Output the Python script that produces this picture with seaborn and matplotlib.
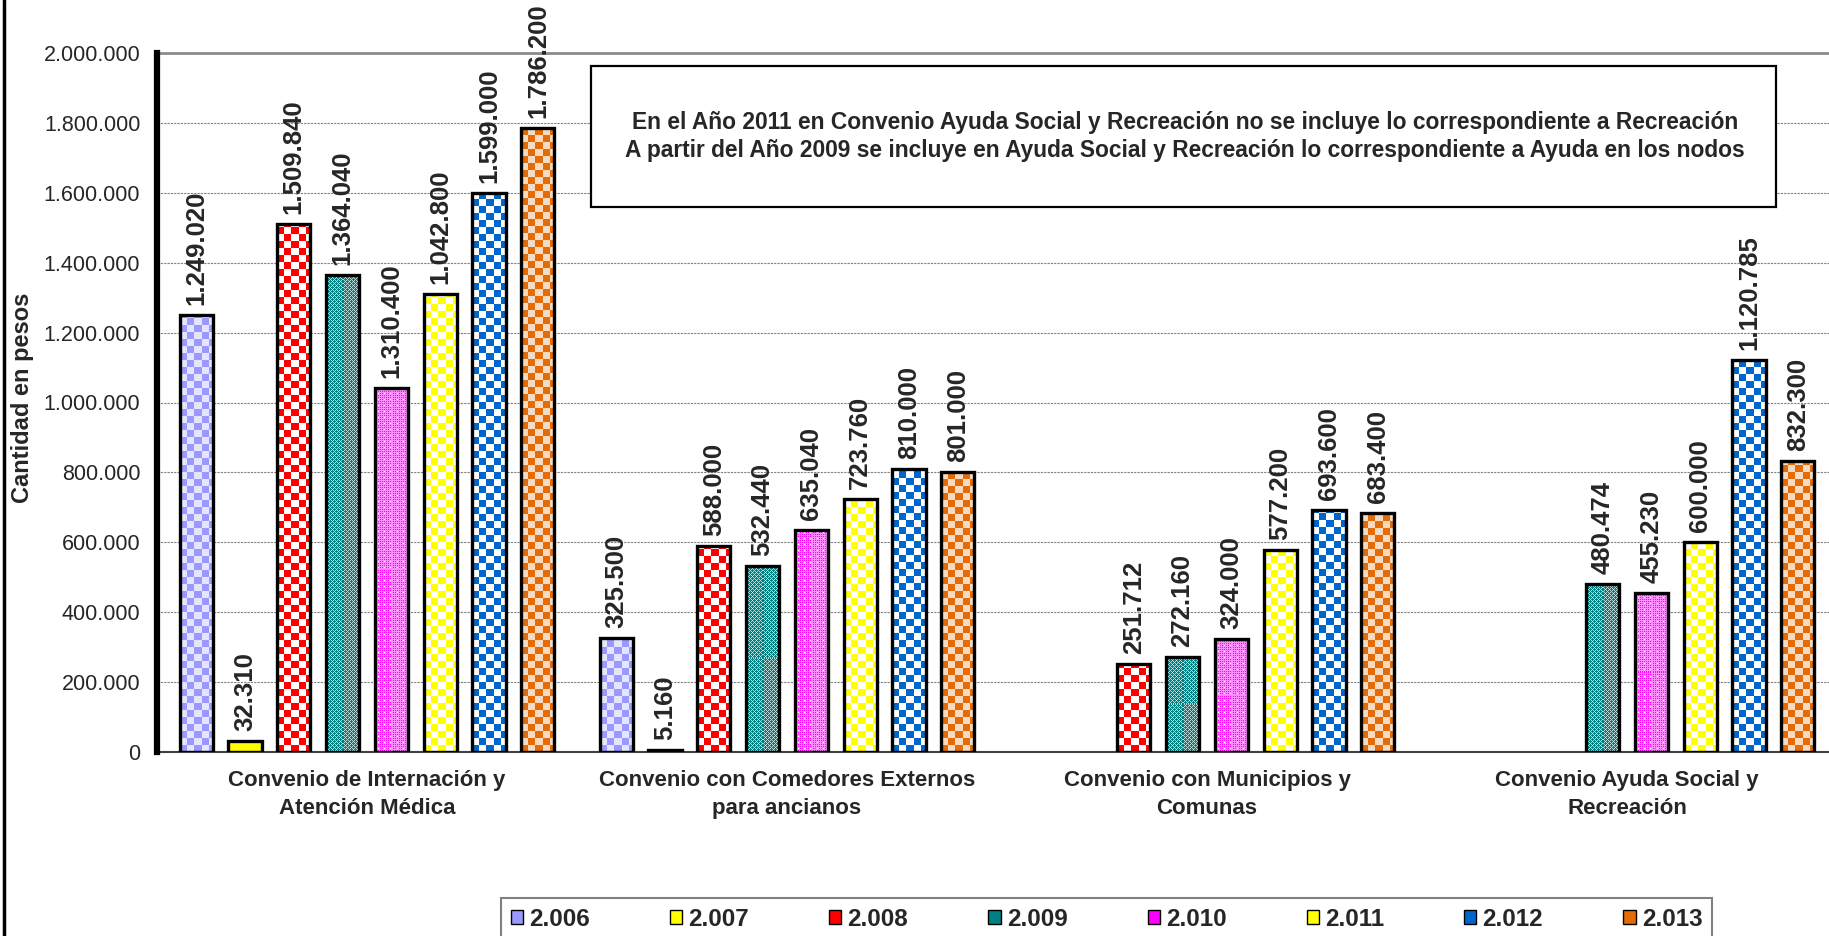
import numpy as np
import pandas as pd
import seaborn as sns
import matplotlib.pyplot as plt
from matplotlib.colors import to_rgb
from matplotlib.patches import Patch, Rectangle
from matplotlib.lines import Line2D

# datos
categorias = ["Convenio de Internación y\nAtención Médica",
              "Convenio con Comedores Externos\npara ancianos",
              "Convenio con Municipios y\nComunas",
              "Convenio Ayuda Social y\nRecreación"]
anios = ["2.006", "2.007", "2.008", "2.009", "2.010", "2.011", "2.012", "2.013"]

v2006 = [1249020, 325500, None, None]
v2007 = [32310, 5160, None, None]
v2008 = [1509840, 588000, 251712, None]
v2009 = [1364040, 532440, 272160, 480474]
v2010 = [1042800, 635040, 324000, 455230]
v2011 = [1310400, 723760, 577200, 600000]
v2012 = [1599000, 810000, 693600, 1120785]
v2013 = [1786200, 801000, 683400, 832300]
valores = [v2006, v2007, v2008, v2009, v2010, v2011, v2012, v2013]

# en el original las etiquetas de 2010 y 2011 del primer grupo estan cruzadas
etiquetas_fijas = {("2.010", 0): "1.310.400", ("2.011", 0): "1.042.800"}

colores = ["#9999FF", "#FFFF00", "#FF0000", "#008080",
           "#FF00FF", "#FFFF00", "#0066CC", "#E36C09"]
tramas = ["bubble", "solid", "checker", "teal", "dots", "checker", "checker", "bubble"]

nota = ["En el Año 2011 en Convenio Ayuda Social y Recreación no se incluye lo correspondiente a Recreación",
        "A partir del Año 2009 se incluye en Ayuda Social y Recreación lo correspondiente a Ayuda en los nodos"]


def miles(v):
    return f"{v:,.0f}".replace(",", ".")


def textura(tipo, color, h, w):
    c = np.array(to_rgb(color))
    i, j = np.mgrid[0:h, 0:w]
    img = np.ones((h, w, 3))
    if tipo == "solid":
        img[:] = c
    elif tipo == "checker":
        m = ((i // 7 + j // 7) % 2) == 0
        img[m] = c
    elif tipo == "bubble":
        m = ((i // 7 + j // 7) % 2) == 0
        img[m] = c
        img[~m] = 0.75 + 0.25 * c
    elif tipo == "teal":
        img[:] = c
        m = ((i + j) % 4 == 0) | ((i - j) % 4 == 0)
        img[m] = 0.7 + 0.3 * c
        img[(i % 4 == 2) & (j % 4 == 2)] = 0.85 + 0.15 * c
    elif tipo == "dots":
        img[:] = c
        img[(i % 2 == 0) | (j % 2 == 0)] = 0.55 + 0.45 * c
        img[(i % 6 == 3) & (j % 6 == 3)] = 1.0
    return img


filas = []
for anio, vals in zip(anios, valores):
    for cat, v in zip(categorias, vals):
        if v is not None:
            filas.append({"categoria": cat, "anio": anio, "monto": v})
df = pd.DataFrame(filas)

sns.set_style("white")
plt.rcParams["font.family"] = ["Liberation Sans", "DejaVu Sans"]

W, H = 1829, 936
fig = plt.figure(figsize=(W / 100, H / 100), dpi=100)
ax = fig.add_axes([157 / W, 1 - 752 / H, 1680 / W, 699 / H])

ancho = 0.93
sns.barplot(data=df, x="categoria", y="monto", hue="anio", order=categorias,
            hue_order=anios, palette=dict(zip(anios, colores)), width=ancho,
            gap=0.32, edgecolor="black", linewidth=2.4, errorbar=None,
            legend=False, ax=ax)

ax.set_xlim(-0.5, 3.5)
ax.set_ylim(0, 2000000)

slot = ancho / len(anios)
for bar in list(ax.patches):
    xc = bar.get_x() + bar.get_width() / 2
    ci = int(round(xc))
    hi = int(np.floor((xc - ci + ancho / 2) / slot))
    anio = anios[hi]
    h = bar.get_height()
    # trama tipo excel recortada a la barra
    p0 = ax.transData.transform((bar.get_x(), 0))
    p1 = ax.transData.transform((bar.get_x() + bar.get_width(), h))
    wpx = max(int(round(p1[0] - p0[0])), 1)
    hpx = max(int(round(p1[1] - p0[1])), 1)
    im = ax.imshow(textura(tramas[hi], colores[hi], hpx, wpx), origin="lower",
                   extent=[bar.get_x(), bar.get_x() + bar.get_width(), 0, h],
                   aspect="auto", interpolation="nearest", zorder=2.5)
    im.set_clip_path(bar)
    bar.set_facecolor("none")
    bar.set_zorder(3)
    txt = etiquetas_fijas.get((anio, ci), miles(h))
    ax.annotate(txt, (xc, h), xytext=(0, 10), textcoords="offset pixels",
                rotation=90, ha="center", va="bottom", fontsize=18.5,
                fontweight="bold", zorder=4)

ax.set_xlim(-0.5, 3.5)
ax.set_ylim(0, 2000000)
ax.set_yticks(np.arange(0, 2000001, 200000))
ax.set_yticklabels([miles(v) for v in np.arange(0, 2000001, 200000)], fontsize=15.5)
ax.tick_params(axis="y", length=0, pad=12)
ax.tick_params(axis="x", length=0, pad=13)
for t in ax.get_xticklabels():
    t.set_fontsize(16)
    t.set_fontweight("bold")
    t.set_linespacing(1.45)
ax.set_xlabel("")
ax.set_ylabel("")

ax.set_axisbelow(True)
ax.yaxis.grid(True, color="#808080", linestyle=(0, (2, 1)), linewidth=0.8)
ax.axhline(2000000, color="#8c8c8c", linewidth=2, zorder=1, clip_on=False)
for s in ["top", "right"]:
    ax.spines[s].set_visible(False)
ax.spines["left"].set_color("black")
ax.spines["left"].set_linewidth(4.5)
ax.spines["bottom"].set_color("#404040")
ax.spines["bottom"].set_linewidth(1.5)
ax.spines["left"].set_zorder(5)

fig.text(23 / W, 1 - 398 / H, "Cantidad en pesos", rotation=90, ha="center",
         va="center", fontsize=17, fontweight="bold")

# cuadro de nota
fig.add_artist(Rectangle((591 / W, 1 - 207 / H), (1776 - 591) / W, 141 / H,
                         transform=fig.transFigure, facecolor="white",
                         edgecolor="black", linewidth=1.6, zorder=6))
fig.text(1185 / W, 1 - 123 / H, nota[0], ha="center", va="center",
         fontsize=16.4, fontweight="bold", zorder=7)
fig.text(1185 / W, 1 - 150 / H, nota[1], ha="center", va="center",
         fontsize=16.4, fontweight="bold", zorder=7)

# borde exterior
fig.add_artist(Line2D([4 / W, 4 / W], [0, 1], color="black", linewidth=2.5))

handles = [Patch(facecolor=c, edgecolor="black", linewidth=1) for c in colores]
leg = fig.legend(handles, anios, loc="upper left", ncol=8, mode="expand",
                 bbox_to_anchor=(501 / W, 1 - 948 / H, 1211 / W, 50 / H),
                 prop={"size": 17.5, "weight": "bold"}, handlelength=0.5,
                 handleheight=0.5, handletextpad=0.25, fancybox=False,
                 borderpad=0.4, borderaxespad=0, framealpha=1,
                 edgecolor="#808080")
leg.get_frame().set_linewidth(1.5)

fig.savefig("out.png", dpi=100)
